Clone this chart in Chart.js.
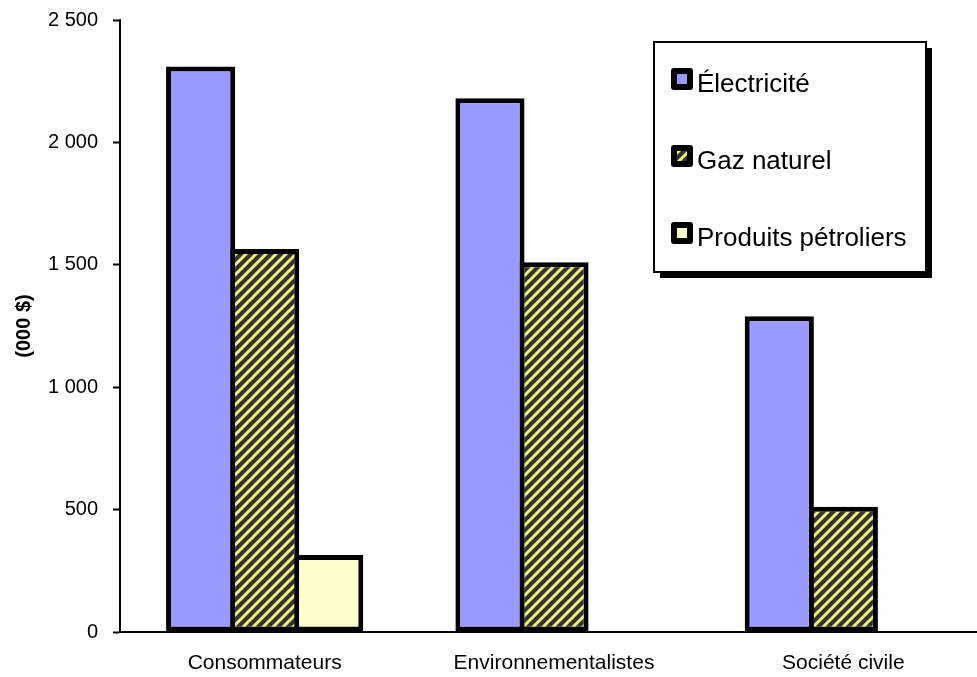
<!DOCTYPE html>
<html lang="fr">
<head>
  <meta charset="UTF-8" />
  <title>Dépenses par groupe</title>
  <script src="https://cdn.jsdelivr.net/npm/chart.js"></script>
  <style>
    html, body { margin: 0; padding: 0; background: #fff; overflow: hidden; }
    canvas { display: block; }
  </style>
</head>
<body>
  <!-- canvas a bit wider than the window: the plot area runs past the right edge -->
  <canvas id="chart" width="988" height="677"></canvas>

  <script>
    const categories = ['Consommateurs', 'Environnementalistes', 'Société civile'];
    const seriesNames = ['Électricité', 'Gaz naturel', 'Produits pétroliers'];
    const electricite = [2310, 2180, 1290];
    const gazNaturel = [1565, 1510, 512];
    const produitsPetroliers = [315, null, null];
    const yTicks = [0, 500, 1000, 1500, 2000, 2500];
    const yTickLabels = ['0', '500', '1 000', '1 500', '2 000', '2 500'];

    const font = '"Liberation Sans", Arial, sans-serif';

    // hatch pattern for "Gaz naturel"
    function makeHatch() {
      const p = 10;
      const c = document.createElement('canvas');
      c.width = p; c.height = p;
      const g = c.getContext('2d');
      g.fillStyle = '#333333';
      g.fillRect(0, 0, p, p);
      g.strokeStyle = '#f2f27a';
      g.lineWidth = 3;
      g.beginPath();
      g.moveTo(0, p); g.lineTo(p, 0);
      g.moveTo(-p / 2, p / 2); g.lineTo(p / 2, -p / 2);
      g.moveTo(p / 2, p * 1.5); g.lineTo(p * 1.5, p / 2);
      g.stroke();
      return g.createPattern(c, 'repeat');
    }

    const ctx = document.getElementById('chart').getContext('2d');
    const hatch = makeHatch();
    const fills = ['#9999ff', hatch, '#ffffcc'];

    // boxed legend with drop shadow
    const boxLegend = {
      id: 'boxLegend',
      afterDraw(chart) {
        const c = chart.ctx;
        const x = 654, y = 42, w = 272, h = 230;
        c.save();
        c.fillStyle = '#000';
        c.fillRect(x + 6, y + 6, w, h);
        c.fillStyle = '#fff';
        c.fillRect(x, y, w, h);
        c.lineWidth = 2;
        c.strokeStyle = '#000';
        c.strokeRect(x, y, w, h);

        const centers = [79, 156, 233];
        chart.data.datasets.forEach((ds, i) => {
          const cy = centers[i];
          c.fillStyle = '#000';
          c.beginPath();
          c.roundRect(671, cy - 11, 22, 22, 3);
          c.fill();
          c.fillStyle = ds.backgroundColor;
          c.fillRect(677, cy - 5, 10, 10);
          c.fillStyle = '#000';
          c.font = '26px ' + font;
          c.textAlign = 'left';
          c.textBaseline = 'alphabetic';
          c.fillText(ds.label, 697, cy + 12.5);
        });
        c.restore();
      }
    };

    const values = [electricite, gazNaturel, produitsPetroliers];

    new Chart(ctx, {
      type: 'bar',
      data: {
        labels: categories,
        datasets: seriesNames.map((name, i) => ({
          label: name,
          data: values[i],
          backgroundColor: fills[i],
          borderColor: '#000',
          borderWidth: 5,
          borderSkipped: false,
          categoryPercentage: 0.664,
          barPercentage: 1.08
        }))
      },
      options: {
        responsive: false,
        animation: false,
        devicePixelRatio: 1,
        layout: { padding: { top: 20, right: 0, left: 0, bottom: 0 } },
        plugins: { legend: { display: false }, tooltip: { enabled: false } },
        scales: {
          x: {
            grid: { display: false, drawTicks: false },
            border: { color: '#000', width: 2 },
            ticks: { color: '#000', font: { family: font, size: 21 }, padding: 19 },
            afterFit(s) { s.height = 45; }
          },
          y: {
            min: 0,
            max: 2500,
            afterBuildTicks(s) { s.ticks = yTicks.map(v => ({ value: v })); },
            grid: { drawOnChartArea: false, tickLength: 7, tickColor: '#000', tickWidth: 2 },
            border: { color: '#000', width: 2 },
            ticks: {
              color: '#000',
              font: { family: font, size: 20 },
              padding: 15,
              callback: (v) => yTickLabels[yTicks.indexOf(v)]
            },
            title: {
              display: true,
              text: '(000 $)',
              color: '#000',
              font: { family: font, size: 20, weight: 'bold' },
              padding: { top: 12, bottom: 0 }
            },
            afterFit(s) { s.width = 120; s.paddingTop = 0; s.paddingBottom = 0; }
          }
        }
      },
      plugins: [boxLegend]
    });
  </script>
</body>
</html>
